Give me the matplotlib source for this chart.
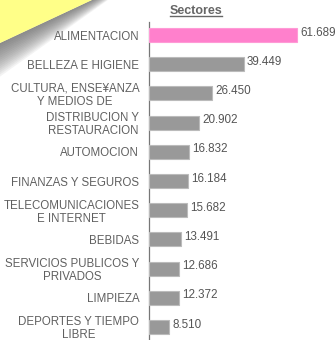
import matplotlib
matplotlib.use("Agg")
import matplotlib.pyplot as plt
from matplotlib.patches import Polygon
from matplotlib.lines import Line2D
from matplotlib.transforms import ScaledTranslation
import numpy as np

categories = ["ALIMENTACION", "BELLEZA E HIGIENE", "CULTURA, ENSE¥ANZA\nY MEDIOS DE",
              "DISTRIBUCION Y\nRESTAURACION", "AUTOMOCION", "FINANZAS Y SEGUROS",
              "TELECOMUNICACIONES\nE INTERNET", "BEBIDAS", "SERVICIOS PUBLICOS Y\nPRIVADOS",
              "LIMPIEZA", "DEPORTES Y TIEMPO\nLIBRE"]
values = [61.689, 39.449, 26.450, 20.902, 16.832, 16.184, 15.682, 13.491, 12.686, 12.372, 8.510]
value_labels = ["61.689", "39.449", "26.450", "20.902", "16.832", "16.184", "15.682",
                "13.491", "12.686", "12.372", "8.510"]
title = "Sectores"

plt.rcParams['font.family'] = ['Liberation Sans', 'DejaVu Sans']

W, H = 336, 340
fig = plt.figure(figsize=(W/100, H/100), dpi=100)
fig.patch.set_facecolor('white')

def fx(x): return x / W
def fy(y): return 1 - y / H

# shadow gradient below the yellow corner
steps = 16
for i in range(steps):
    off = (i + 1)
    poly = Polygon([(fx(92), fy(0)), (fx(92 + off*1.0), fy(0)), (fx(0), fy(43 + off*2.1)),
                    (fx(0), fy(43))],
                   closed=True, transform=fig.transFigure, facecolor='#606060',
                   edgecolor='none', alpha=0.07, zorder=0)
    fig.add_artist(poly)
tri = Polygon([(fx(0), fy(0)), (fx(92), fy(0)), (fx(0), fy(43))], closed=True,
              transform=fig.transFigure, facecolor='#FFFF88', edgecolor='none', zorder=1)
fig.add_artist(tri)

ax = fig.add_axes([fx(149), 0, 1 - fx(149), (H - 22) / H])
ax.set_facecolor('none')
n = len(values)
y = np.arange(n)
colors = ['#FF80CC'] + ['#999999'] * (n - 1)
edges = ['#FF9AD6'] + ['#BBBBBB'] * (n - 1)
ax.barh(y, values, height=0.48, color=colors, edgecolor=edges, linewidth=0.8, zorder=3)
ax.set_ylim(n - 0.55, -0.45)
ax.set_xlim(0, 77.9)
ax.set_yticks(y)
ax.set_yticklabels(categories, fontsize=8.3, color='#606060', linespacing=1.12,
                   multialignment='center')
shift = ScaledTranslation(0, 1.5 / 100, fig.dpi_scale_trans)
for t in ax.get_yticklabels():
    t.set_transform(t.get_transform() + shift)
ax.tick_params(axis='y', length=0, pad=7)
ax.set_xticks([])
for s in ['top', 'right', 'bottom']:
    ax.spines[s].set_visible(False)
ax.spines['left'].set_color('#777777')
ax.spines['left'].set_linewidth(0.9)

for yi, v, lab in zip(y, values, value_labels):
    ax.text(v + 1.3, yi - 0.08, lab, fontsize=8.4, color='#555555', va='center', ha='left')

fig.text(fx(196), fy(10.5), title, fontsize=9, fontweight='bold', color='#666666',
         ha='center', va='center')
fig.add_artist(Line2D([fx(170), fx(222)], [fy(16), fy(16)], transform=fig.transFigure,
                      color='#666666', linewidth=1))

fig.savefig("out.png", dpi=100)
